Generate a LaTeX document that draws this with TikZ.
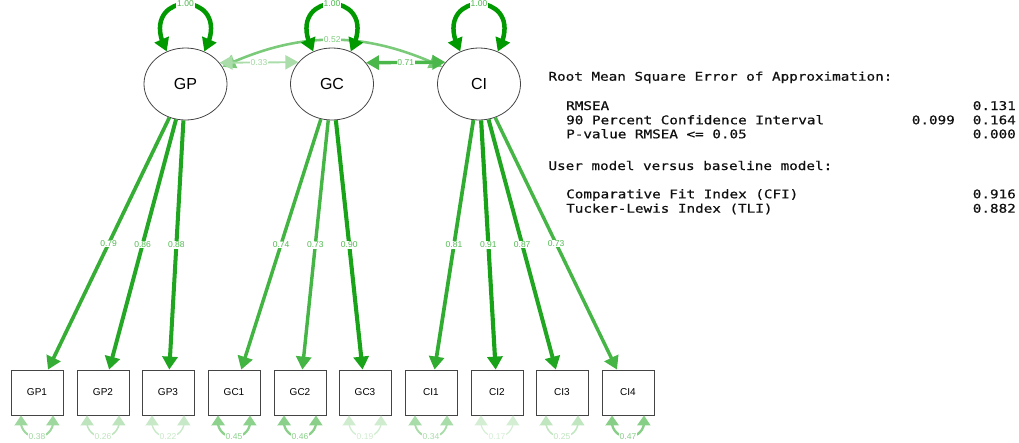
\documentclass[tikz,border=0pt]{standalone}
\usepackage{fontspec}
\setmainfont{Liberation Sans}
\newfontfamily\fitmono[FakeStretch=1.19,FakeBold=0.6]{DejaVu Sans Mono}
\usetikzlibrary{arrows.meta,shapes.geometric,bending}

\definecolor{semgreen}{HTML}{009900}
\definecolor{framegray}{HTML}{444444}
\definecolor{monotext}{HTML}{101010}

\begin{document}
\begin{tikzpicture}[x=1pt,y=-1pt,
  latent/.style={ellipse, draw=framegray, line width=0.8pt, minimum width=83pt,
    minimum height=72pt, inner sep=0pt, font=\fontsize{16}{16}\selectfont},
  manifest/.style={rectangle, draw=framegray, line width=0.8pt, minimum width=52pt,
    minimum height=45pt, inner sep=0pt, font=\fontsize{10}{10}\selectfont},
  ld/.style={draw=semgreen!#1!white, line width={(0.5+0.04*#1)*1pt}},
  lbl/.style={fill=white, inner sep=0.8pt, text=semgreen!#1!white,
    font=\fontsize{8.5}{8.5}\selectfont},
  loadtip/.style={-{Triangle[length=13pt,width=15pt]}},
  covtip/.style={{Triangle[length=13pt,width=14pt]}-{Triangle[length=13pt,width=14pt]}},
  looptip/.style={{Triangle[length=13pt,width=15pt]}-{Triangle[length=13pt,width=15pt]}},
  restip/.style={{Triangle[length=10pt,width=13pt]}-{Triangle[length=10pt,width=13pt]}},
  fitline/.style={inner sep=0pt, text=monotext, font=\fitmono\fontsize{12}{12}\selectfont},
]
\useasboundingbox (0,0) rectangle (1019,442);
\clip (0,0) rectangle (1019,442);

% latent factors
\node[latent] (GP) at (185.5,84) {GP};
\node[latent] (GC) at (332,84) {GC};
\node[latent] (CI) at (479,84) {CI};

% indicators
\node[manifest] (GP1) at (37,392.5) {GP1};
\node[manifest] (GP2) at (103,392.5) {GP2};
\node[manifest] (GP3) at (168,392.5) {GP3};
\node[manifest] (GC1) at (234,392.5) {GC1};
\node[manifest] (GC2) at (300,392.5) {GC2};
\node[manifest] (GC3) at (365,392.5) {GC3};
\node[manifest] (CI1) at (431,392.5) {CI1};
\node[manifest] (CI2) at (497,392.5) {CI2};
\node[manifest] (CI3) at (562,392.5) {CI3};
\node[manifest] (CI4) at (628,392.5) {CI4};

% factor covariances
\draw[covtip, ld=52] (GP) to[bend left=25] node[lbl=50] (c52) {0.52} (CI);
\draw[covtip, ld=33] (GP.32.6) -- node[lbl=38] (c33) {0.33} (GC.147.4);
\draw[covtip, ld=71] (GC.32.6) -- node[lbl=65] (c71) {0.71} (CI.147.4);

% factor loadings
\draw[loadtip, ld=79] (GP) -- node[lbl=68] (l1) {0.79} (GP1);
\draw[loadtip, ld=86] (GP) -- node[lbl=68] (l2) {0.86} (GP2);
\draw[loadtip, ld=88] (GP) -- node[lbl=68] (l3) {0.88} (GP3);
\draw[loadtip, ld=74] (GC) -- node[lbl=68] (l4) {0.74} (GC1);
\draw[loadtip, ld=73] (GC) -- node[lbl=68] (l5) {0.73} (GC2);
\draw[loadtip, ld=90] (GC) -- node[lbl=68] (l6) {0.90} (GC3);
\draw[loadtip, ld=81] (CI) -- node[lbl=68] (l7) {0.81} (CI1);
\draw[loadtip, ld=91] (CI) -- node[lbl=68] (l8) {0.91} (CI2);
\draw[loadtip, ld=87] (CI) -- node[lbl=68] (l9) {0.87} (CI3);
\draw[loadtip, ld=73] (CI) -- node[lbl=68] (l10) {0.73} (CI4);

% factor variances
\foreach \f in {GP,GC,CI}{
  \draw[looptip, ld=100] (\f.120) to[out=118, in=62, looseness=4.9]
    node[lbl=70] (v\f) {1.00} (\f.60);
}

% residual variances
\foreach \m/\v/\c in {GP1/38/38, GP2/26/26, GP3/22/22, GC1/45/45, GC2/46/46,
                      GC3/19/19, CI1/34/34, CI2/17/17, CI3/25/25, CI4/47/47}{
  \draw[restip, ld=\c] ([xshift=-16pt]\m.south) to[out=-100, in=-80, looseness=2.35]
    node[lbl=\c] (r\m) {0.\v} ([xshift=16pt]\m.south);
}

% fit measures
\node[fitline, anchor=base west] (h1) at (548.3,80.7) {Root Mean Square Error of Approximation:};
\node[fitline, anchor=base west] (f1) at (566,110) {RMSEA};
\node[fitline, anchor=base east] (f1v) at (1016,110) {0.131};
\node[fitline, anchor=base west] (f2) at (566,124.3) {90 Percent Confidence Interval};
\node[fitline, anchor=base east] (f2a) at (955,124.3) {0.099};
\node[fitline, anchor=base east] (f2b) at (1016,124.3) {0.164};
\node[fitline, anchor=base west] (f3) at (566,138.3) {P-value RMSEA <= 0.05};
\node[fitline, anchor=base east] (f3v) at (1016,138.3) {0.000};
\node[fitline, anchor=base west] (h2) at (548.3,170) {User model versus baseline model:};
\node[fitline, anchor=base west] (f4) at (566,198.3) {Comparative Fit Index (CFI)};
\node[fitline, anchor=base east] (f4v) at (1016,198.3) {0.916};
\node[fitline, anchor=base west] (f5) at (566,212.7) {Tucker-Lewis Index (TLI)};
\node[fitline, anchor=base east] (f5v) at (1016,212.7) {0.882};
\end{tikzpicture}
\end{document}
